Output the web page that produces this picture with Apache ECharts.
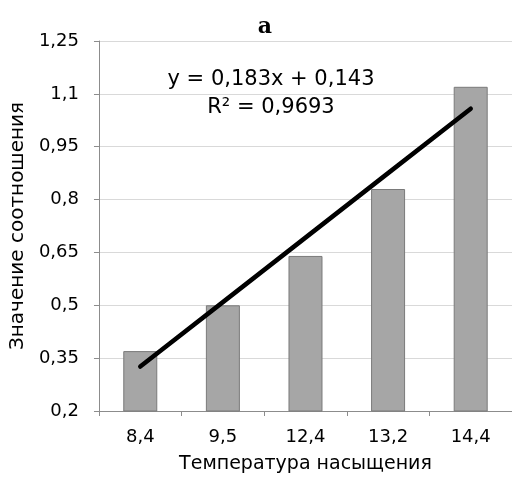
<!DOCTYPE html>
<html>
<head>
<meta charset="utf-8">
<script src="https://cdn.jsdelivr.net/npm/echarts@6/dist/echarts.min.js"></script>
<style>html,body{margin:0;padding:0;background:#fff;}#c{width:512px;height:481px;}</style>
</head>
<body>
<div id="c"></div>
<script>
var categories = ['8,4', '9,5', '12,4', '13,2', '14,4'];
var barValues = [0.37, 0.50, 0.64, 0.83, 1.12];
var trendValues = [0.326, 0.509, 0.692, 0.875, 1.058];
var yTicks = [0.2, 0.35, 0.5, 0.65, 0.8, 0.95, 1.1, 1.25];
var equationLines = ['y = 0,183x + 0,143', 'R² = 0,9693'];
var titleText = 'a';
var xName = 'Температура насыщения';
var yName = 'Значение соотношения';

var FONT = 'DejaVu Sans';
var chart = echarts.init(document.getElementById('c'), null, {renderer: 'canvas'});
chart.setOption({
  animation: false,
  backgroundColor: '#ffffff',
  title: {
    text: titleText, left: 260, top: 11, textAlign: 'center',
    textStyle: {fontFamily: 'DejaVu Serif', fontWeight: 'bold', fontSize: 22, color: '#000'}
  },
  grid: {left: 94, right: 0, top: 41, bottom: 70},
  xAxis: {
    type: 'category', data: categories,
    name: xName, nameLocation: 'middle', nameGap: 44,
    nameTextStyle: {fontFamily: FONT, fontSize: 19, color: '#000'},
    axisLine: {lineStyle: {color: '#8c8c8c', width: 1}},
    axisTick: {show: true, length: 5, alignWithLabel: false, lineStyle: {color: '#8c8c8c'}},
    axisLabel: {fontFamily: FONT, fontSize: 18, color: '#000', margin: 17},
    splitLine: {show: false}
  },
  yAxis: {
    type: 'value', min: yTicks[0], max: yTicks[yTicks.length - 1], interval: 0.15,
    name: yName, nameLocation: 'middle', nameGap: 64,
    nameTextStyle: {fontFamily: FONT, fontSize: 20, color: '#000'},
    axisLine: {show: true, lineStyle: {color: '#8c8c8c', width: 1}},
    axisTick: {show: true, length: 5, lineStyle: {color: '#8c8c8c'}},
    axisLabel: {fontFamily: FONT, fontSize: 18, color: '#000', margin: 20,
      formatter: function (v) { return (Math.round(v * 100) / 100).toString().replace('.', ','); }},
    splitLine: {lineStyle: {color: '#d9d9d9', width: 1}}
  },
  series: [
    {
      type: 'bar', data: barValues, barWidth: 34,
      itemStyle: {color: '#a6a6a6', borderColor: '#7a7a7a', borderWidth: 1}
    },
    {
      type: 'line', data: trendValues, symbol: 'none', silent: true,
      lineStyle: {color: '#000', width: 4.5, cap: 'round'}
    }
  ],
  graphic: [{
    type: 'text', x: 271, y: 66,
    style: {
      text: equationLines.join('\n'), fill: '#000', font: '21px "DejaVu Sans"',
      textAlign: 'center', textVerticalAlign: 'top', lineHeight: 28
    }
  }]
});
</script>
</body>
</html>
